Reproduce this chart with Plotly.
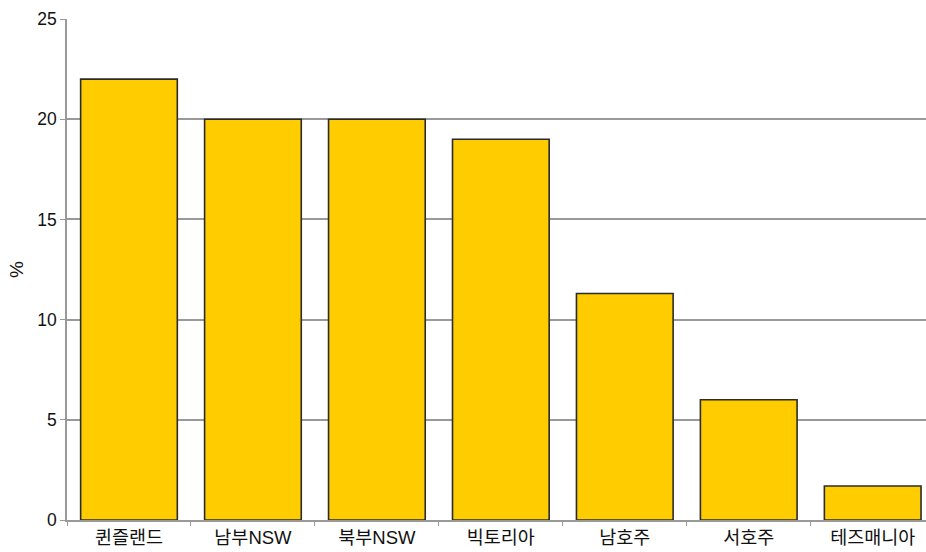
import plotly.graph_objects as go

regions = ["퀸즐랜드", "남부NSW", "북부NSW", "빅토리아", "남호주", "서호주", "테즈매니아"]
shares = [22, 20, 20, 19, 11.3, 6, 1.7]
y_ticks = [0, 5, 10, 15, 20, 25]

font_family = "Liberation Sans, Noto Sans CJK KR, sans-serif"

fig = go.Figure(
    go.Bar(
        x=regions,
        y=shares,
        marker=dict(color="#FFCC00", line=dict(color="#2b2b2b", width=1.6)),
        width=0.78,
    )
)

fig.update_layout(
    width=926,
    height=552,
    margin=dict(l=67, r=0, t=19, b=32),
    paper_bgcolor="white",
    plot_bgcolor="white",
    showlegend=False,
    font=dict(family=font_family, size=17, color="#111"),
)

fig.update_xaxes(
    range=[-0.5, 6.43],
    showgrid=False,
    showline=True,
    linecolor="#999",
    linewidth=1.5,
    ticks="outside",
    tickson="boundaries",
    ticklen=4,
    tickcolor="#999",
    tickfont=dict(family=font_family, size=18.5, color="#111"),
)

fig.update_yaxes(
    range=[0, 25],
    tickvals=y_ticks,
    showgrid=True,
    gridcolor="#999",
    gridwidth=1.5,
    showline=True,
    linecolor="#999",
    linewidth=1.5,
    ticks="outside",
    ticklen=5,
    tickcolor="#999",
    tickfont=dict(family=font_family, size=17.5, color="#111"),
    title=dict(text="%", font=dict(family=font_family, size=19, color="#111"), standoff=9),
    zeroline=False,
)

fig.write_html("out.html")
